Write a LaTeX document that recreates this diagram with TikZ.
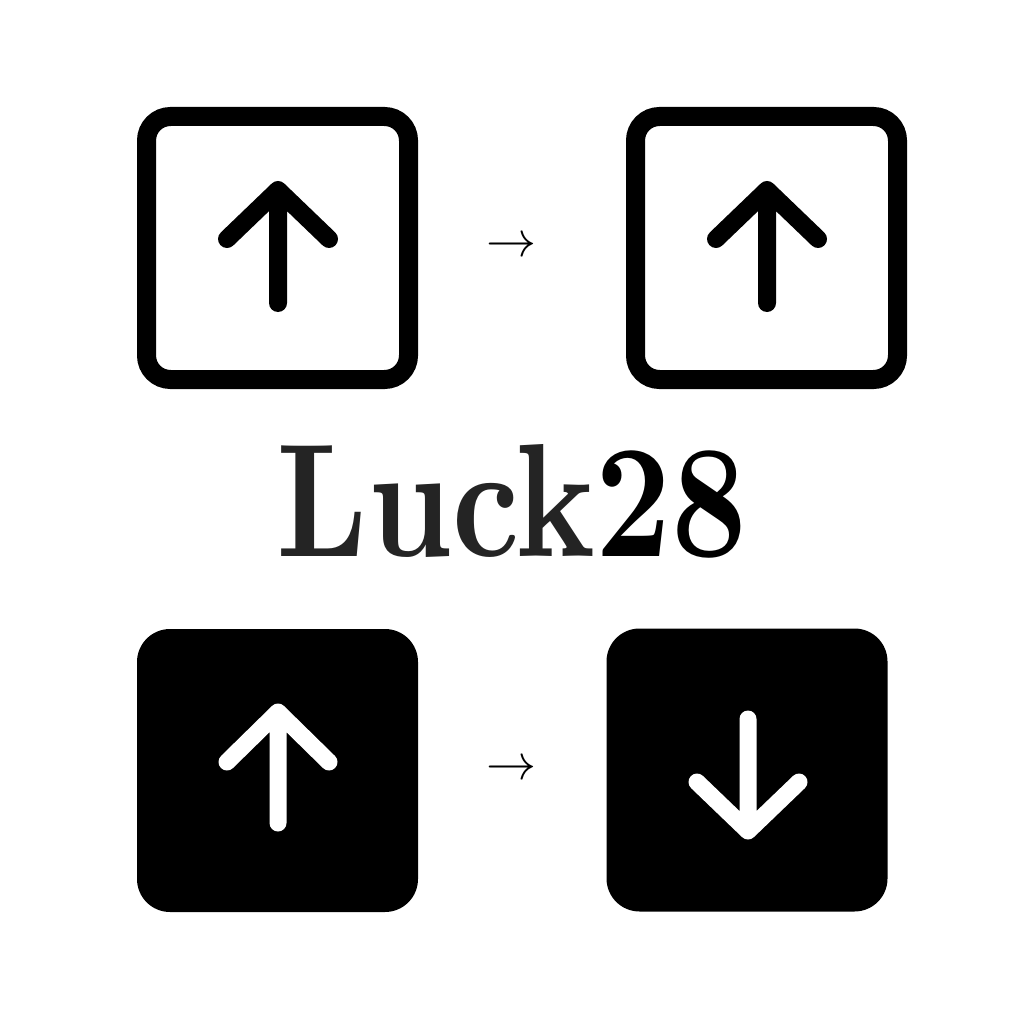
\documentclass[tikz,border=0pt]{standalone}
\usepackage{xcolor}
\usepackage{graphicx}
\definecolor{inkgray}{HTML}{242424}
\begin{document}
\begin{tikzpicture}[x=1pt,y=-1pt,
  outlinebox/.style={draw=black, line width=19pt, rounded corners=24pt, minimum width=262pt, minimum height=263pt, inner sep=0pt, fill=white},
  solidbox/.style={fill=black, rounded corners=33pt, minimum width=281pt, minimum height=283pt, inner sep=0pt},
  arrowline/.style={line width=18pt, line cap=round, line join=round},
  smallarrow/.style={inner sep=0pt}
]
\useasboundingbox (0,0) rectangle (1024,1024);
\fill[white] (0,0) rectangle (1024,1024);
% boxes
\node[outlinebox] (tl) at (277.5,248) {};
\node[outlinebox] (tr) at (766.5,248) {};
\node[solidbox] (bl) at (277.5,770.5) {};
\node[solidbox] (br) at (747,770) {};
% arrows inside boxes
\draw[arrowline, black, shift={(tl.center)}] (0.5,55) -- (0.5,-58) (-50.5,-9) -- (0.5,-58) -- (51.5,-9);
\draw[arrowline, black, shift={(tr.center)}] (0.5,55) -- (0.5,-58) (-50.5,-9) -- (0.5,-58) -- (51.5,-9);
\draw[arrowline, white, line width=17pt, shift={(bl.center)}] (0.5,52.5) -- (0.5,-58.5) (-50.5,-8.5) -- (0.5,-58.5) -- (51.5,-8.5);
\draw[arrowline, white, line width=17pt, shift={(br.center)}] (1,-51) -- (1,61) (-50,12) -- (1,61) -- (52,12);
% small arrows between boxes
\node[smallarrow] (a1) at (511.5,247) {\scalebox{5}{$\rightarrow$}};
\node[smallarrow] (a2) at (511.5,770) {\scalebox{5}{$\rightarrow$}};
% title
\node[inner sep=0pt, text=inkgray] (title) at (512,501) {\resizebox{470pt}{112pt}{\bfseries Luck\textcolor{black}{28}}};
\end{tikzpicture}
\end{document}
